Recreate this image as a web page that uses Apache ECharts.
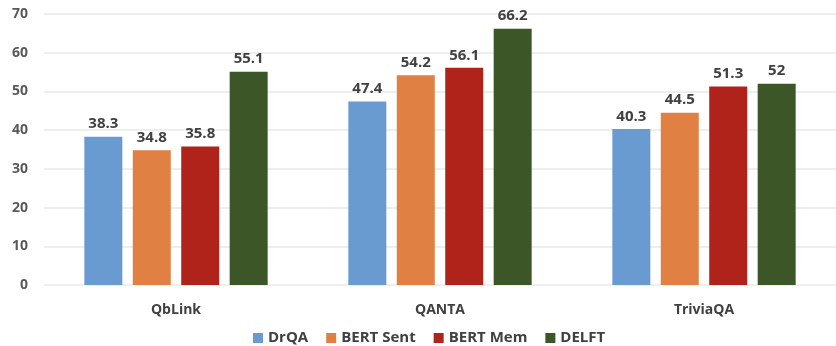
<!DOCTYPE html>
<html>
<head>
<meta charset="utf-8">
<script src="https://cdn.jsdelivr.net/npm/echarts@6/dist/echarts.min.js"></script>
<style>
  html, body { margin: 0; padding: 0; background: #fff; }
  #chart { width: 836px; height: 346px; }
</style>
</head>
<body>
<div id="chart"></div>
<script>
// Datasets on the x axis
const datasets = ['QbLink', 'QANTA', 'TriviaQA'];

// Accuracy of each method per dataset
const drqa     = [38.3, 47.4, 40.3];
const bertSent = [34.8, 54.2, 44.5];
const bertMem  = [35.8, 56.1, 51.3];
const delft    = [55.1, 66.2, 52];

const methodNames = ['DrQA', 'BERT Sent', 'BERT Mem', 'DELFT'];
const methodValues = [drqa, bertSent, bertMem, delft];
const methodColors = ['#6a9bd0', '#e08143', '#b0231a', '#3d5628'];

const FONT = '"Open Sans", "Noto Sans", sans-serif';
const TEXT = '#404040';

const chart = echarts.init(document.getElementById('chart'), null, { renderer: 'canvas' });

chart.setOption({
  animation: false,
  backgroundColor: '#ffffff',
  grid: { left: 44, top: 14, width: 798, height: 271, containLabel: false },
  legend: {
    left: 253,
    top: 328,
    padding: 0,
    itemWidth: 10,
    itemHeight: 10,
    itemGap: 18,
    icon: 'rect',
    textStyle: { fontFamily: FONT, fontWeight: 'bold', fontSize: 15, color: TEXT, lineHeight: 20 },
    data: methodNames
  },
  xAxis: {
    type: 'category',
    data: datasets,
    axisLine: { show: false },
    axisTick: { show: false },
    axisLabel: { fontFamily: FONT, fontWeight: 'bold', fontSize: 14, color: TEXT, margin: 18 }
  },
  yAxis: {
    type: 'value',
    min: 0,
    max: 70,
    interval: 10,
    axisLine: { show: false },
    axisTick: { show: false },
    axisLabel: { fontFamily: FONT, fontWeight: 'bold', fontSize: 14, color: '#595959', margin: 16 },
    splitLine: { lineStyle: { color: '#e9e9e9', width: 1.5 } }
  },
  series: methodNames.map((name, i) => ({
    name,
    type: 'bar',
    data: methodValues[i],
    barWidth: 38,
    barGap: '27.5%',
    itemStyle: { color: methodColors[i] },
    label: {
      show: true,
      position: 'top',
      distance: 5,
      fontFamily: FONT,
      fontWeight: 'bold',
      fontSize: 15,
      color: TEXT
    }
  }))
});
</script>
</body>
</html>
